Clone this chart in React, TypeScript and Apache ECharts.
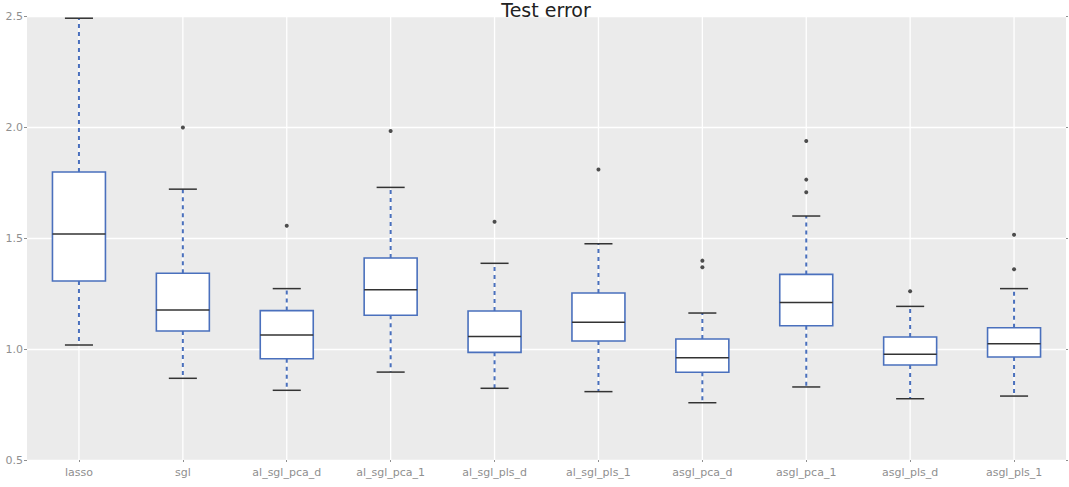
import React, { useEffect, useRef } from "react";
import * as echarts from "echarts";

const categories = [
  "lasso", "sgl", "al_sgl_pca_d", "al_sgl_pca_1", "al_sgl_pls_d",
  "al_sgl_pls_1", "asgl_pca_d", "asgl_pca_1", "asgl_pls_d", "asgl_pls_1",
];
const whiskerLow = [1.018, 0.868, 0.814, 0.896, 0.823, 0.808, 0.758, 0.829, 0.776, 0.788];
const q1 = [1.306, 1.081, 0.956, 1.152, 0.985, 1.036, 0.895, 1.105, 0.928, 0.964];
const median = [1.518, 1.176, 1.063, 1.267, 1.056, 1.12, 0.961, 1.209, 0.976, 1.024];
const q3 = [1.797, 1.341, 1.173, 1.41, 1.171, 1.252, 1.045, 1.336, 1.054, 1.096];
const whiskerHigh = [2.49, 1.72, 1.272, 1.728, 1.386, 1.474, 1.162, 1.599, 1.192, 1.272];
const outliers: number[][] = [
  [],
  [1.998],
  [1.555],
  [1.982],
  [1.573],
  [1.809],
  [1.398, 1.368],
  [1.937, 1.763, 1.706],
  [1.26],
  [1.515, 1.359],
];
const yTicks = [0.5, 1.0, 1.5, 2.0, 2.5];
const title = "Test error";

const BLUE = "#4a70bd";
const DARK = "#333333";
const LABEL = "#8f8f8f";
const FONT = "DejaVu Sans, sans-serif";

export default function App() {
  const ref = useRef<HTMLDivElement>(null);
  useEffect(() => {
    if (!ref.current) return;
    const chart = echarts.init(ref.current, undefined, { renderer: "svg" });
    const boxData = categories.map((_, i) => [i, whiskerLow[i], q1[i], median[i], q3[i], whiskerHigh[i]]);
    const outlierData: number[][] = [];
    outliers.forEach((arr, i) => arr.forEach((v) => outlierData.push([i, v])));

    const renderItem = (params: any, api: any) => {
      const i = api.value(0);
      const pLow = api.coord([i, api.value(1)]);
      const pQ1 = api.coord([i, api.value(2)]);
      const pMed = api.coord([i, api.value(3)]);
      const pQ3 = api.coord([i, api.value(4)]);
      const pHigh = api.coord([i, api.value(5)]);
      const band = api.size([1, 0])[0];
      const cx = pLow[0];
      const boxW = band * 0.51;
      const capW = band * 0.27;
      const cs = params.coordSys;
      const whiskerStyle = { stroke: BLUE, lineWidth: 2, lineDash: [4, 4] };
      const capStyle = { stroke: DARK, lineWidth: 1.5 };
      return {
        type: "group",
        children: [
          {
            type: "line",
            shape: { x1: cx, y1: cs.y, x2: cx, y2: cs.y + cs.height },
            style: { stroke: "#ffffff", lineWidth: 1.3 },
          },
          { type: "line", shape: { x1: cx, y1: pQ3[1], x2: cx, y2: pHigh[1] }, style: whiskerStyle },
          { type: "line", shape: { x1: cx, y1: pQ1[1], x2: cx, y2: pLow[1] }, style: whiskerStyle },
          {
            type: "rect",
            shape: { x: cx - boxW / 2, y: pQ3[1], width: boxW, height: pQ1[1] - pQ3[1] },
            style: { fill: "#ffffff", stroke: BLUE, lineWidth: 1.6 },
          },
          {
            type: "line",
            shape: { x1: cx - boxW / 2, y1: pMed[1], x2: cx + boxW / 2, y2: pMed[1] },
            style: { stroke: DARK, lineWidth: 1.5 },
          },
          { type: "line", shape: { x1: cx - capW / 2, y1: pHigh[1], x2: cx + capW / 2, y2: pHigh[1] }, style: capStyle },
          { type: "line", shape: { x1: cx - capW / 2, y1: pLow[1], x2: cx + capW / 2, y2: pLow[1] }, style: capStyle },
        ],
      };
    };

    chart.setOption({
      animation: false,
      backgroundColor: "#ffffff",
      textStyle: { fontFamily: FONT },
      grid: {
        left: 27,
        right: 3,
        top: 16,
        bottom: 27,
        show: true,
        backgroundColor: "#EBEBEB",
        borderWidth: 0,
      },
      graphic: [
        {
          type: "text",
          x: 546,
          y: 0,
          z: 10,
          style: {
            text: title,
            font: `19px ${FONT}`,
            fill: "#222222",
            textAlign: "center",
            textVerticalAlign: "top",
          },
        },
      ],
      xAxis: {
        type: "category",
        data: categories,
        axisLine: { show: false },
        axisTick: { show: true, alignWithLabel: true, length: 2, lineStyle: { color: LABEL } },
        splitLine: { show: false },
        axisLabel: { color: LABEL, fontSize: 11, margin: 7, fontFamily: FONT, interval: 0 },
      },
      yAxis: [
        {
          type: "value",
          min: yTicks[0],
          max: yTicks[yTicks.length - 1],
          interval: 0.5,
          axisLine: { show: false },
          axisTick: { show: true, length: 3, lineStyle: { color: LABEL } },
          splitLine: { show: true, lineStyle: { color: "#ffffff", width: 1.3 } },
          axisLabel: {
            color: LABEL,
            fontSize: 11,
            margin: 4,
            fontFamily: FONT,
            formatter: (v: number) => v.toFixed(1),
          },
        },
        {
          type: "value",
          position: "right",
          min: yTicks[0],
          max: yTicks[yTicks.length - 1],
          interval: 0.5,
          axisLine: { show: false },
          axisTick: { show: true, length: 2, lineStyle: { color: LABEL } },
          splitLine: { show: false },
          axisLabel: { show: false },
        },
      ],
      series: [
        {
          type: "custom",
          renderItem,
          data: boxData,
          encode: { x: 0, y: [1, 2, 3, 4, 5] },
          clip: false,
          z: 2,
        },
        {
          type: "scatter",
          data: outlierData,
          symbol: "circle",
          symbolSize: 4,
          itemStyle: { color: "#222222" },
          z: 3,
        },
      ],
    });
    return () => chart.dispose();
  }, []);
  return (
    <div
      ref={ref}
      style={{ position: "absolute", left: 0, top: 0, width: 1069, height: 487 }}
    />
  );
}
